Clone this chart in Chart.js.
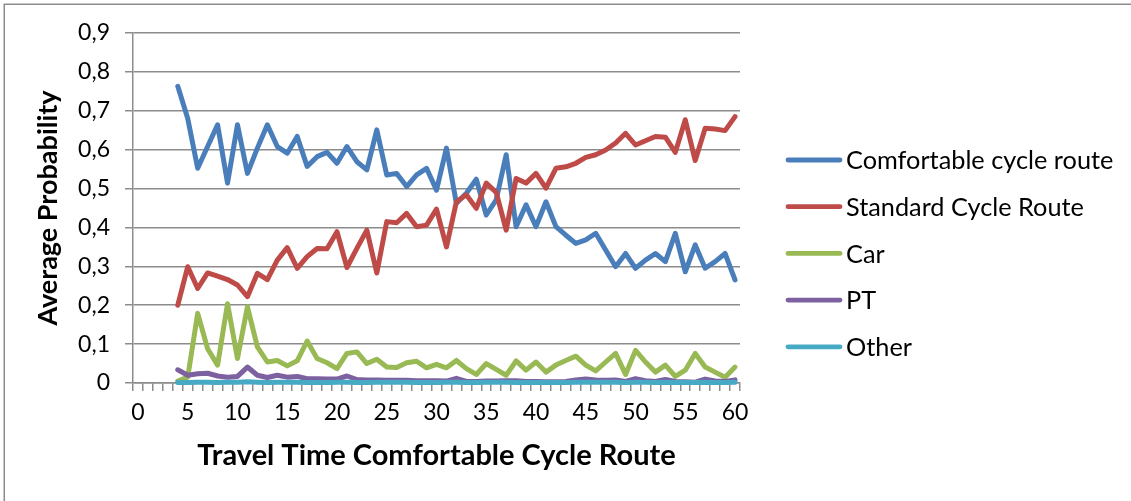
<!DOCTYPE html>
<html>
<head>
<meta charset="utf-8">
<script src="https://cdn.jsdelivr.net/npm/chart.js@4/dist/chart.umd.min.js"></script>
<style>
html,body{margin:0;padding:0;background:#fff;}
#wrap{width:1131px;height:501px;position:relative;}
</style>
</head>
<body>
<div id="wrap"><canvas id="c" width="1131" height="501"></canvas></div>
<script>
// ---- data ----
const categories = ['0','1','2','3','4','5','6','7','8','9','10','11','12','13','14','15','16','17','18','19','20',
  '21','22','23','24','25','26','27','28','29','30','31','32','33','34','35','36','37','38','39','40',
  '41','42','43','44','45','46','47','48','49','50','51','52','53','54','55','56','57','58','59','60'];
const seriesNames = ['Comfortable cycle route','Standard Cycle Route','Car','PT','Other'];
const comfortable = [null,null,null,null,
  0.763,0.680,0.552,0.608,0.664,0.514,0.664,0.539,0.604,0.664,0.608,0.591,0.634,0.557,0.582,0.593,0.565,
  0.608,0.569,0.548,0.651,0.535,0.539,0.505,0.535,0.552,0.496,0.604,0.462,0.488,0.524,0.432,0.471,0.587,0.402,0.458,0.402,
  0.466,0.402,0.380,0.359,0.368,0.385,0.342,0.299,0.333,0.295,0.316,0.333,0.312,0.385,0.286,0.355,0.295,0.312,0.333,0.265];
const standard = [null,null,null,null,
  0.200,0.299,0.243,0.283,0.275,0.266,0.252,0.222,0.282,0.266,0.316,0.348,0.295,0.325,0.346,0.345,0.389,
  0.297,0.346,0.393,0.283,0.415,0.412,0.436,0.402,0.406,0.447,0.350,0.466,0.484,0.449,0.514,0.490,0.393,0.526,0.514,0.539,
  0.501,0.552,0.556,0.565,0.580,0.587,0.599,0.617,0.642,0.612,0.623,0.634,0.632,0.593,0.677,0.572,0.655,0.653,0.649,0.685];
const car = [null,null,null,null,
  0.005,0.015,0.179,0.088,0.046,0.204,0.063,0.196,0.093,0.054,0.058,0.044,0.057,0.108,0.063,0.052,0.037,
  0.076,0.080,0.050,0.061,0.041,0.040,0.052,0.056,0.039,0.048,0.039,0.058,0.037,0.022,0.050,0.035,0.020,0.057,0.033,0.054,
  0.028,0.046,0.058,0.069,0.046,0.031,0.054,0.076,0.022,0.084,0.054,0.028,0.046,0.017,0.033,0.076,0.041,0.028,0.015,0.041];
const pt = [null,null,null,null,
  0.034,0.020,0.024,0.025,0.018,0.015,0.017,0.041,0.020,0.014,0.020,0.015,0.017,0.011,0.011,0.010,0.010,
  0.018,0.009,0.008,0.008,0.007,0.007,0.007,0.006,0.006,0.006,0.005,0.012,0.004,0.004,0.005,0.005,0.006,0.006,0.004,0.004,
  0.003,0.003,0.004,0.008,0.010,0.008,0.007,0.008,0.004,0.011,0.006,0.004,0.009,0.004,0.003,0.002,0.010,0.005,0.004,0.008];
const other = [null,null,null,null,
  0.001,0.001,0.002,0.002,0.001,0.002,0.002,0.003,0.002,0.001,0.002,0.002,0.002,0.001,0.001,0.001,0.002,
  0.002,0.001,0.001,0.002,0.002,0.002,0.002,0.001,0.001,0.001,0.002,0.002,0.001,0.001,0.002,0.002,0.002,0.001,0.001,0.001,
  0.001,0.001,0.001,0.002,0.002,0.002,0.002,0.002,0.001,0.002,0.002,0.001,0.002,0.001,0.001,0.001,0.002,0.001,0.001,0.002];
const yTicks = [0,0.1,0.2,0.3,0.4,0.5,0.6,0.7,0.8,0.9];
const colors = ['#4A7EBB','#BE4B48','#98B954','#7D60A0','#46AAC5'];

const FONT = 'Lato, "Open Sans", sans-serif';
const GRID = '#8c8c8c';

const bgBorder = {
  id: 'bgBorder',
  beforeDraw(chart) {
    const ctx = chart.ctx;
    ctx.save();
    ctx.fillStyle = '#fff';
    ctx.fillRect(0, 0, chart.width, chart.height);
    ctx.strokeStyle = '#8c8c8c';
    ctx.lineWidth = 1.5;
    ctx.beginPath();
    ctx.moveTo(4.25, chart.height);
    ctx.lineTo(4.25, 4.25);
    ctx.lineTo(chart.width, 4.25);
    ctx.stroke();
    ctx.restore();
  }
};

const lineLegend = {
  id: 'lineLegend',
  afterDraw(chart) {
    const ctx = chart.ctx;
    ctx.save();
    const x0 = 788, x1 = 840, tx = 846, y0 = 160, dy = 46.7;
    ctx.font = '25.3px ' + FONT;
    ctx.textBaseline = 'middle';
    ctx.textAlign = 'left';
    chart.data.datasets.forEach((ds, i) => {
      const y = y0 + i * dy;
      ctx.strokeStyle = ds.borderColor;
      ctx.lineWidth = 4.8;
      ctx.lineCap = 'round';
      ctx.beginPath();
      ctx.moveTo(x0, y);
      ctx.lineTo(x1, y);
      ctx.stroke();
      ctx.fillStyle = '#000';
      ctx.fillText(ds.label, tx, y + 1);
    });
    ctx.restore();
  }
};

const seriesData = [comfortable, standard, car, pt, other];
const datasets = seriesData.map((d, i) => ({
  label: seriesNames[i],
  data: d,
  borderColor: colors[i],
  backgroundColor: colors[i],
  borderWidth: 5,
  pointRadius: 0,
  pointHoverRadius: 0,
  tension: 0,
  fill: false,
  spanGaps: false,
  borderJoinStyle: 'round',
  borderCapStyle: 'round',
  clip: 8,
  order: 5 - i
}));

new Chart(document.getElementById('c'), {
  type: 'line',
  data: { labels: categories, datasets },
  plugins: [bgBorder, lineLegend],
  options: {
    responsive: false,
    animation: false,
    events: [],
    layout: { padding: { left: 0, right: 391, top: 33, bottom: 28 } },
    plugins: { legend: { display: false }, tooltip: { enabled: false } },
    scales: {
      x: {
        type: 'category',
        offset: true,
        afterFit(s) { s.height = 90; },
        grid: { display: true, drawOnChartArea: false, drawTicks: true, tickLength: 8, offset: true, color: GRID, lineWidth: 1.5 },
        border: { display: true, color: GRID, width: 1.5 },
        ticks: {
          autoSkip: false, maxRotation: 0, minRotation: 0, padding: 8,
          color: '#000', font: { family: FONT, size: 23 },
          callback(v, i) { const l = categories[i]; return (Number(l) % 5 === 0) ? l : ''; }
        },
        title: {
          display: true, text: 'Travel Time Comfortable Cycle Route', color: '#000',
          font: { family: FONT, size: 29, weight: 'bold' }, padding: { top: 4, bottom: 0 }
        }
      },
      y: {
        min: 0, max: 0.9,
        afterFit(s) { s.width = 133; },
        afterBuildTicks(s) { s.ticks = yTicks.map(v => ({ value: v })); },
        grid: { color: GRID, lineWidth: 1.5, tickLength: 8, drawTicks: true },
        border: { display: true, color: GRID, width: 1.5 },
        ticks: {
          padding: 15, color: '#000', font: { family: FONT, size: 23 },
          callback(v) { return v === 0 ? '0' : v.toFixed(1).replace('.', ','); }
        },
        title: {
          display: true, text: 'Average Probability', color: '#000',
          font: { family: FONT, size: 27, weight: 'bold' }, padding: { top: 32, bottom: 0 }
        }
      }
    }
  }
});
</script>
</body>
</html>
